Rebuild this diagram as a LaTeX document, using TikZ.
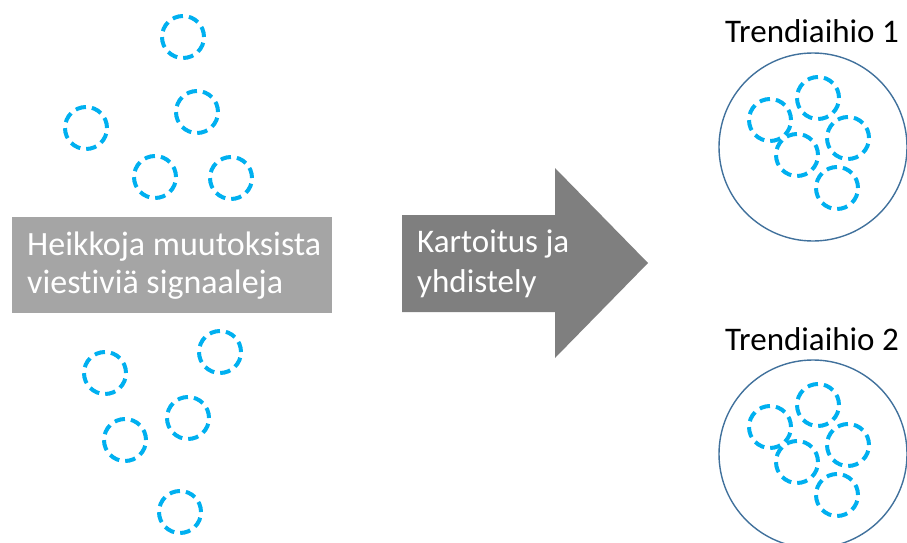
\documentclass[tikz,border=0pt]{standalone}
\usepackage{fontspec}
\setmainfont{Carlito}[Ligatures=NoCommon]
\definecolor{signalblue}{HTML}{00B0F0}
\definecolor{clusterline}{HTML}{41719C}
\definecolor{boxgray}{HTML}{A5A5A5}
\definecolor{arrowgray}{HTML}{7F7F7F}
\begin{document}
\begin{tikzpicture}[x=1pt,y=-1pt,
  signal/.style={circle, draw=signalblue, line width=4pt,
    dash pattern=on 10.5pt off 6pt, minimum size=42pt, inner sep=0pt},
  cluster/.style={circle, draw=clusterline, line width=1.4pt,
    minimum size=188pt, inner sep=0pt},
  title/.style={anchor=base west, inner sep=0pt, font=\fontsize{33}{40}\selectfont},
  whitetext/.style={anchor=west, align=left, inner sep=0pt, text=white}
]
\useasboundingbox (0,0) rectangle (907,543);

% scattered weak signals, upper group
\node[signal] (s1) at (183,37) {};
\node[signal] (s2) at (197,112) {};
\node[signal] (s3) at (86,128) {};
\node[signal] (s4) at (155,177) {};
\node[signal] (s5) at (231,178) {};
% lower group
\node[signal] (s6) at (105,373) {};
\node[signal] (s7) at (220,352) {};
\node[signal] (s8) at (188,418) {};
\node[signal] (s9) at (125,440) {};
\node[signal] (s10) at (180,512) {};

% label box
\node[fill=boxgray, minimum width=320pt, minimum height=96pt, anchor=north west,
  inner sep=0pt] (box) at (12,217) {};
\node[whitetext, font=\fontsize{34}{38}\selectfont] (boxtext) at (27,266)
  {Heikkoja muutoksista\\viestiviä signaaleja};

% process arrow
\fill[arrowgray] (402,215) -- (555,215) -- (555,168) -- (648,263)
  -- (555,358) -- (555,312) -- (402,312) -- cycle;
\node[whitetext, font=\fontsize{33}{40}\selectfont] (arrowtext) at (417,264)
  {Kartoitus ja\\yhdistely};

% trend clusters
\foreach \k/\dy in {1/0, 2/307} {
  \node[title] (t\k) at (725,43+\dy) {Trendiaihio \k};
  \node[cluster] (c\k) at (813,147+\dy) {};
  \node[signal] (c\k a) at (770,120+\dy) {};
  \node[signal] (c\k b) at (818,98+\dy) {};
  \node[signal] (c\k c) at (848,138+\dy) {};
  \node[signal] (c\k d) at (797,155+\dy) {};
  \node[signal] (c\k e) at (837,188+\dy) {};
}
\end{tikzpicture}
\end{document}
